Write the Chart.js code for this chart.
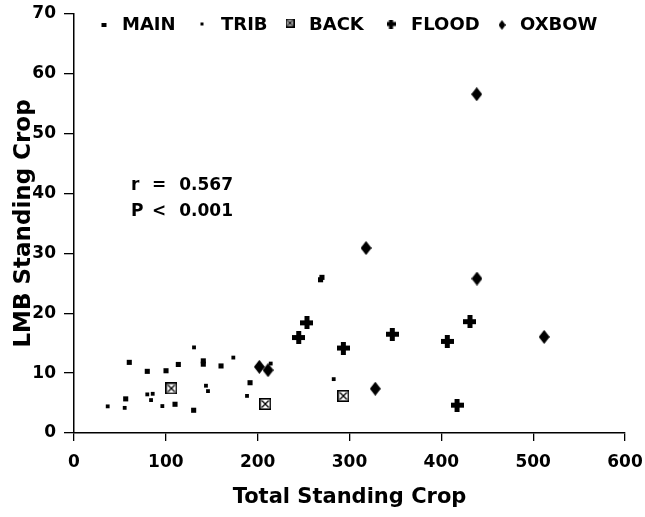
<!DOCTYPE html>
<html><head><meta charset="utf-8">
<script src="https://cdn.jsdelivr.net/npm/chart.js@4.4.0/dist/chart.umd.min.js"></script>
<style>html,body{margin:0;padding:0;background:#fff}#wrap{width:645px;height:517px}</style>
</head><body><div id="wrap"><canvas id="c" width="645" height="517"></canvas></div>
<script>
// ---- data ----
const seriesNames = ['MAIN', 'TRIB', 'BACK', 'FLOOD', 'OXBOW'];
const mainX = [60.2, 56.3, 79.8, 100.2, 113.6, 140.8, 140.8, 130.3, 160.1, 191.7, 110.0, 268.5, 270.0];
const mainY = [11.8, 5.7, 10.3, 10.4, 11.45, 12.05, 11.5, 3.8, 11.2, 8.4, 4.8, 25.6, 26.0];
const tribX = [36.7, 55.2, 79.8, 85.7, 83.9, 96.2, 130.7, 143.7, 145.9, 173.5, 188.4, 214.2, 282.8];
const tribY = [4.45, 4.2, 6.45, 6.55, 5.5, 4.5, 14.3, 7.9, 7.0, 12.6, 6.2, 11.6, 9.0];
const backX = [106.0, 208.3, 293.3];
const backY = [7.45, 4.85, 6.2];
const floodX = [244.7, 253.7, 293.3, 346.6, 406.5, 417.1, 431.2];
const floodY = [15.95, 18.4, 14.2, 16.5, 15.3, 4.65, 18.6];
const oxbowX = [201.8, 211.3, 318.0, 328.1, 438.5, 438.8, 512.0];
const oxbowY = [11.05, 10.5, 30.9, 7.4, 56.6, 25.8, 16.05];
const xTicks = [0, 100, 200, 300, 400, 500, 600];
const yTicks = [0, 10, 20, 30, 40, 50, 60, 70];
const xTitle = 'Total Standing Crop';
const yTitle = 'LMB Standing Crop';
const statLines = [['r', '=', '0.567'], ['P', '<', '0.001']];

// ---- marker images ----
function makeImg(w, h, draw) {
  const c = document.createElement('canvas'); c.width = w; c.height = h;
  const g = c.getContext('2d'); draw(g, w, h); return c;
}
function backImg(s) {
  return makeImg(s, s, (g, w, h) => {
    g.fillStyle = '#fff'; g.fillRect(0, 0, w, h);
    g.strokeStyle = '#000'; g.lineWidth = 1.6;
    g.strokeRect(0.8, 0.8, w - 1.6, h - 1.6);
    g.lineWidth = 1.3;
    g.beginPath(); g.moveTo(2.5, 2.5); g.lineTo(w - 2.5, h - 2.5);
    g.moveTo(w - 2.5, 2.5); g.lineTo(2.5, h - 2.5); g.stroke();
  });
}
function plusImg(s, t) {
  return makeImg(s, s, (g, w, h) => {
    g.fillStyle = '#000';
    g.fillRect((w - t) / 2, 0, t, h);
    g.fillRect(0, (h - t) / 2, w, t);
  });
}
function diamondImg(w0, h0) {
  return makeImg(w0, h0, (g, w, h) => {
    g.fillStyle = '#000';
    g.beginPath(); g.moveTo(w / 2, 0); g.lineTo(w, h / 2); g.lineTo(w / 2, h); g.lineTo(0, h / 2); g.closePath(); g.fill();
  });
}
const imgBack = backImg(12), imgPlus = plusImg(13, 5), imgDiamond = diamondImg(11, 14);
const legBack = backImg(9), legPlus = plusImg(9, 4), legDiamond = diamondImg(7, 10);

const toPts = (xs, ys) => xs.map((x, i) => ({x, y: ys[i]}));
const FONT = "'DejaVu Sans', 'Liberation Sans', sans-serif";

const datasets = [
  {label: seriesNames[0], data: toPts(mainX, mainY), pointStyle: 'rect', pointRadius: 3.6, backgroundColor: '#000', borderColor: '#000', borderWidth: 0},
  {label: seriesNames[1], data: toPts(tribX, tribY), pointStyle: 'rect', pointRadius: 2.7, backgroundColor: '#000', borderColor: '#000', borderWidth: 0},
  {label: seriesNames[2], data: toPts(backX, backY), pointStyle: imgBack},
  {label: seriesNames[3], data: toPts(floodX, floodY), pointStyle: imgPlus},
  {label: seriesNames[4], data: toPts(oxbowX, oxbowY), pointStyle: imgDiamond}
];

const legendPlugin = {
  id: 'customLegend',
  afterDraw(chart) {
    const ctx = chart.ctx;
    ctx.save();
    ctx.fillStyle = '#000';
    ctx.font = 'bold 18px ' + FONT;
    ctx.textBaseline = 'middle';
    const y = 25;
    const textX = [122, 221, 309, 411, 520];
    const markX = [104, 202, 290, 391, 502];
    ctx.fillRect(markX[0] - 2.5, y - 2, 5, 4);
    ctx.fillRect(markX[1] - 1.5, y - 2.5, 3, 3);
    ctx.drawImage(legBack, markX[2] - legBack.width / 2, y - 2 - legBack.height / 2);
    ctx.drawImage(legPlus, markX[3] - legPlus.width / 2, y - 1 - legPlus.height / 2);
    ctx.drawImage(legDiamond, markX[4] - legDiamond.width / 2, y - legDiamond.height / 2);
    seriesNames.forEach((n, i) => ctx.fillText(n, textX[i], y));
    ctx.font = 'bold 17px ' + FONT;
    const rows = [186, 212];
    statLines.forEach((parts, i) => {
      ctx.textAlign = 'left'; ctx.fillText(parts[0], 131, rows[i]);
      ctx.textAlign = 'center'; ctx.fillText(parts[1], 159, rows[i]);
      ctx.textAlign = 'right'; ctx.fillText(parts[2], 233, rows[i]);
    });
    ctx.restore();
  }
};

new Chart(document.getElementById('c'), {
  type: 'scatter',
  data: {datasets},
  options: {
    responsive: false,
    animation: false,
    events: [],
    layout: {padding: {top: 14, right: 20, bottom: 0, left: 0}},
    plugins: {legend: {display: false}, tooltip: {enabled: false}},
    scales: {
      x: {
        type: 'linear', min: 0, max: 600,
        afterBuildTicks: s => { s.ticks = xTicks.map(v => ({value: v})); },
        afterFit: s => { s.height = 84; s.paddingLeft = 0; s.paddingRight = 0; },
        ticks: {color: '#000', padding: 11, font: {family: FONT, weight: 'bold', size: 17}},
        grid: {display: true, drawOnChartArea: false, drawTicks: true, tickLength: 8, color: '#000', lineWidth: 1.3},
        border: {display: true, color: '#000', width: 1.5},
        title: {display: true, text: xTitle, color: '#000', padding: {top: 0, bottom: 7}, font: {family: FONT, weight: 'bold', size: 21}}
      },
      y: {
        type: 'linear', min: 0, max: 70,
        afterBuildTicks: s => { s.ticks = yTicks.map(v => ({value: v})); },
        afterFit: s => { s.width = 74; s.paddingTop = 0; s.paddingBottom = 0; },
        ticks: {color: '#000', padding: 8, font: {family: FONT, weight: 'bold', size: 17}},
        grid: {display: true, drawOnChartArea: false, drawTicks: true, tickLength: 10, color: '#000', lineWidth: 1.3},
        border: {display: true, color: '#000', width: 1.5},
        title: {display: true, text: yTitle, color: '#000', padding: {top: 10, bottom: 0}, font: {family: FONT, weight: 'bold', size: 23}}
      }
    }
  },
  plugins: [legendPlugin]
});
</script>
</body></html>
